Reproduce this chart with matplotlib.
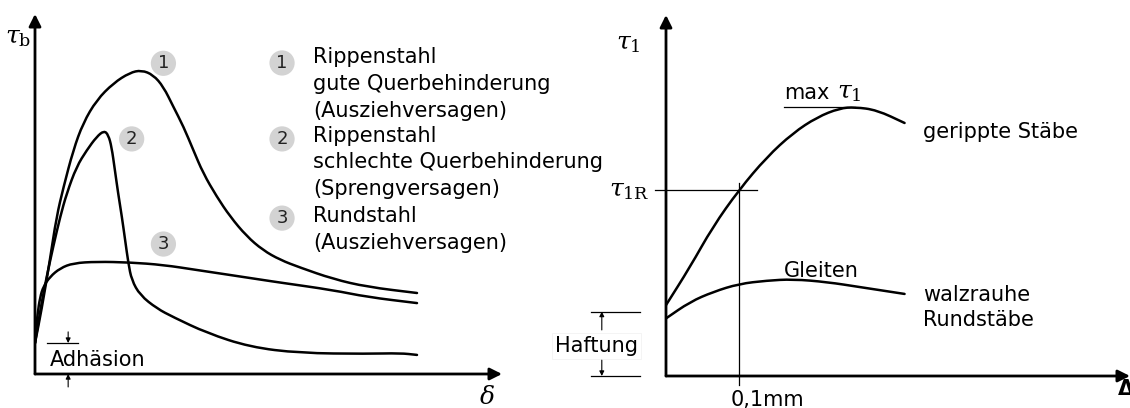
import numpy as np
from matplotlib import pyplot as plt
from matplotlib.path import Path
from matplotlib.patches import PathPatch

plt.rcParams['font.family'] = ['DejaVu Sans']
plt.rcParams['mathtext.fontset'] = 'dejavuserif'

W, H = 1130, 408

# --- left diagram: bond stress tau_b over slip delta (arbitrary units) ---
RIB_GOOD_X = [0, 0.14, 0.32, 0.46, 0.61, 0.82, 1.03, 1.32, 1.68, 2.03, 2.28,
              2.53, 2.75, 2.96, 3.18, 3.39, 3.60, 3.89, 4.18, 4.53, 4.88, 5.25,
              5.67, 6.38, 7.11, 8.18]
RIB_GOOD_Y = [0.86, 1.78, 3.17, 4.36, 5.19, 6.22, 6.97, 7.61, 8.08, 8.37, 8.44,
              8.31, 7.98, 7.43, 6.87, 6.22, 5.58, 4.93, 4.37, 3.83, 3.44, 3.17,
              2.96, 2.64, 2.42, 2.25]

RIB_POOR_X = [0, 0.14, 0.25, 0.39, 0.54, 0.68, 0.89, 1.11, 1.32, 1.48, 1.57,
              1.64, 1.71, 1.78, 1.86, 1.93, 2.00, 2.07, 2.25, 2.61, 2.96, 3.68,
              4.60, 5.67, 7.11, 7.82, 8.18]
RIB_POOR_Y = [0.86, 1.97, 2.70, 3.54, 4.37, 5.02, 5.76, 6.22, 6.59, 6.76, 6.64,
              6.31, 5.67, 5.02, 4.37, 3.72, 3.07, 2.61, 2.19, 1.82, 1.58, 1.14,
              0.75, 0.58, 0.56, 0.58, 0.53]

ROUND_X = [0, 0.05, 0.11, 0.18, 0.32, 0.54, 0.82, 1.32, 2.03, 2.75, 3.46,
           4.18, 4.89, 5.25, 6.38, 7.11, 8.18]
ROUND_Y = [0.86, 1.64, 2.14, 2.43, 2.70, 2.94, 3.08, 3.12, 3.10, 3.03, 2.89,
           2.75, 2.61, 2.54, 2.33, 2.14, 1.97]

ADHESION = 0.86

LEGEND_LINES = [
    'Rippenstahl', 'gute Querbehinderung', '(Ausziehversagen)',
    'Rippenstahl', 'schlechte Querbehinderung', '(Sprengversagen)',
    'Rundstahl', '(Ausziehversagen)',
]

# --- right diagram: tau_1 over slip Delta in mm ---
RIBBED_X = [0, 0.033, 0.064, 0.100, 0.138, 0.174, 0.207, 0.238, 0.259, 0.289, 0.327]
RIBBED_Y = [1.97, 3.03, 4.14, 5.17, 6.08, 6.75, 7.19, 7.44, 7.47, 7.39, 7.03]

PLAIN_X = [0, 0.033, 0.065, 0.100, 0.138, 0.174, 0.221, 0.266, 0.327]
PLAIN_Y = [1.60, 2.06, 2.34, 2.56, 2.65, 2.69, 2.61, 2.47, 2.28]

SLIP_REF = 0.1     # mm
TAU_1R = 5.17
TAU_MAX = 7.47
HAFTUNG = 1.79


def px_axes(fig, x0, y0, x1, y1):
    """Axes from pixel box (x0, y0 origin bottom-left; x1, y1 top-right)."""
    ax = fig.add_axes([x0 / W, 1 - y0 / H, (x1 - x0) / W, (y0 - y1) / H])
    ax.set_axis_off()
    return ax


def smooth_curve(ax, xs, ys):
    """Draw the read points as a chain of quadratic Bezier segments."""
    pts = np.column_stack([xs, ys])
    mids = (pts[:-1] + pts[1:]) / 2
    verts = [pts[0], mids[0]]
    codes = [Path.MOVETO, Path.LINETO]
    for i in range(1, len(pts) - 1):
        verts += [pts[i], mids[i]]
        codes += [Path.CURVE3, Path.CURVE3]
    verts.append(pts[-1])
    codes.append(Path.LINETO)
    patch = PathPatch(Path(verts, codes), fc='none', ec='black', lw=1.8,
                      capstyle='round', joinstyle='round')
    ax.add_patch(patch)


def axis_arrows(ax, xmax, ymax):
    ap = dict(arrowstyle='-|>', lw=2, color='black', mutation_scale=18,
              shrinkA=0, shrinkB=0)
    ax.annotate('', xy=(xmax, 0), xytext=(0, 0), arrowprops=ap,
                annotation_clip=False)
    ax.annotate('', xy=(0, ymax), xytext=(0, 0), arrowprops=ap,
                annotation_clip=False)


def small_arrow(ax, x, y_from, y_to):
    ax.annotate('', xy=(x, y_to), xytext=(x, y_from), annotation_clip=False,
                arrowprops=dict(arrowstyle='-|>', lw=0.8, color='black',
                                mutation_scale=7, shrinkA=0, shrinkB=0))


def circled(ax, x, y, num):
    ax.text(x, y, num, fontsize=13, ha='center', va='center', color='#222222',
            bbox=dict(boxstyle='circle,pad=0.2', fc='#d3d3d3', ec='none'),
            clip_on=False)


fig = plt.figure(figsize=(W / 100, H / 100), dpi=100)
FS = 15
TAU_FS = 18

# left diagram
ax1 = px_axes(fig, 35, 374, 502, 14)
ax1.set_xlim(0, 10)
ax1.set_ylim(0, 10)
axis_arrows(ax1, 10, 10)
smooth_curve(ax1, RIB_GOOD_X, RIB_GOOD_Y)
smooth_curve(ax1, RIB_POOR_X, RIB_POOR_Y)
smooth_curve(ax1, ROUND_X, ROUND_Y)

ax1.text(-0.36, 9.36, r'$\tau_\mathrm{b}$', fontsize=TAU_FS, ha='center', va='center')
ax1.text(9.68, -0.64, r'$\delta$', fontsize=TAU_FS, ha='center', va='center')

circled(ax1, 2.75, 8.63, '1')
circled(ax1, 2.07, 6.53, '2')
circled(ax1, 2.75, 3.61, '3')

for num, y in zip(['1', '2', '3'], [8.64, 6.53, 4.33]):
    circled(ax1, 5.29, y, num)
legend_y = [8.80, 8.06, 7.31, 6.61, 5.89, 5.14, 4.39, 3.64]
for line, y in zip(LEGEND_LINES, legend_y):
    ax1.text(5.95, y, line, fontsize=FS, ha='left', va='center')

ax1.plot([0.26, 0.92], [ADHESION, ADHESION], color='black', lw=0.9)
small_arrow(ax1, 0.71, ADHESION + 0.31, ADHESION)
small_arrow(ax1, 0.71, -0.36, 0)
ax1.text(0.32, 0.39, 'Adhäsion', fontsize=FS, ha='left', va='center')

# right diagram
ax2 = px_axes(fig, 666, 376, 1130, 15)
ax2.set_xlim(0, 0.636)
ax2.set_ylim(0, 10.03)
axis_arrows(ax2, 0.636, 10.03)
smooth_curve(ax2, RIBBED_X, RIBBED_Y)
smooth_curve(ax2, PLAIN_X, PLAIN_Y)

ax2.plot([-0.015, 0.125], [TAU_1R, TAU_1R], color='black', lw=0.9, clip_on=False)
ax2.plot([SLIP_REF, SLIP_REF], [TAU_1R + 0.2, -0.25], color='black', lw=0.9,
         clip_on=False)
ax2.plot([0.162, 0.259], [TAU_MAX, TAU_MAX], color='black', lw=0.9)

ax2.plot([-0.103, -0.036], [HAFTUNG, HAFTUNG], color='black', lw=0.9, clip_on=False)
ax2.plot([-0.103, -0.036], [0, 0], color='black', lw=0.9, clip_on=False)
ax2.text(-0.095, 0.83, 'Haftung', fontsize=FS, ha='center', va='center',
         bbox=dict(fc='white', ec='#f2f2f2', lw=0.6, pad=2))
small_arrow(ax2, -0.088, 1.28, HAFTUNG)
small_arrow(ax2, -0.088, 0.44, 0)

ax2.text(-0.052, 9.25, r'$\tau_1$', fontsize=TAU_FS, ha='center', va='center')
ax2.text(-0.022, TAU_1R, r'$\tau_\mathrm{1R}$', fontsize=TAU_FS, ha='right', va='center')
ax2.text(0.162, 7.86, 'max', fontsize=FS, ha='left', va='center')
ax2.text(0.234, 7.88, r'$\tau_1$', fontsize=TAU_FS, ha='left', va='center')
ax2.text(0.352, 6.78, 'gerippte Stäbe', fontsize=FS, ha='left', va='center')
ax2.text(0.162, 2.92, 'Gleiten', fontsize=FS, ha='left', va='center')
ax2.text(0.352, 2.25, 'walzrauhe', fontsize=FS, ha='left', va='center')
ax2.text(0.352, 1.56, 'Rundstäbe', fontsize=FS, ha='left', va='center')
ax2.text(0.089, -0.67, '0,1mm', fontsize=FS, ha='left', va='center')
ax2.text(0.630, -0.36, 'Δ', fontsize=15, ha='center', va='center',
         fontweight='bold')

fig.savefig('out.png', dpi=100)
